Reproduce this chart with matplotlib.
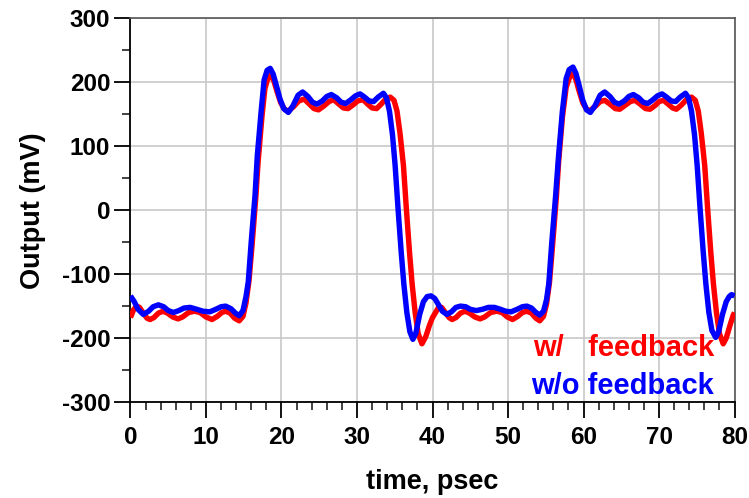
import matplotlib.pyplot as plt
from matplotlib.ticker import MultipleLocator

plt.rcParams['font.family'] = ['Liberation Sans', 'DejaVu Sans']
plt.rcParams['font.weight'] = 'bold'
plt.rcParams['axes.unicode_minus'] = False  # plain hyphen like the original

# time in psec, output in mV
t_nofb = [0, 0.5, 1.0, 1.7, 2.4, 3.0, 3.7, 4.4, 5.0, 5.7, 6.4, 7.1, 7.9, 8.8, 9.6, 10.5, 11.3, 12.0,
          12.6, 13.3, 13.9, 14.4, 14.9, 15.3, 15.6, 16.0, 16.5, 16.8, 17.3, 17.7, 18.1, 18.5, 18.9,
          19.3, 19.8, 20.3, 20.9, 21.5, 22.2, 22.8, 23.5, 24.1, 24.7, 25.4, 26.0, 26.6, 27.3, 27.9,
          28.5, 29.1, 29.8, 30.4, 31.0, 31.6, 32.2, 32.8, 33.5, 33.9, 34.3, 34.7, 35.05, 35.45, 35.85,
          36.2, 36.6, 37.0, 37.4, 37.8, 38.3, 38.8, 39.3, 39.8,
          40.3, 40.8, 41.3, 41.9, 42.5, 43.1, 43.7, 44.4, 45.0, 45.8, 46.6, 47.4, 48.2, 49.0, 49.7,
          50.4, 51.2, 51.9, 52.5, 53.1, 53.7, 54.2, 54.7, 55.1, 55.4, 55.8, 56.3, 56.7, 57.2, 57.7,
          58.1, 58.6, 59.0, 59.4, 59.9, 60.4, 60.9, 61.5, 62.2, 62.8, 63.5, 64.1, 64.7, 65.4, 66.0,
          66.6, 67.3, 67.9, 68.5, 69.1, 69.8, 70.4, 71.0, 71.6, 72.2, 72.8, 73.5, 73.9, 74.3, 74.7,
          75.05, 75.45, 75.85, 76.2, 76.6, 77.0, 77.5, 77.9, 78.4, 78.9, 79.3, 79.6, 80.0]
v_nofb = [-134, -143, -155, -163, -158, -151, -148, -151, -157, -160, -157, -153, -152, -155, -158,
          -159, -155, -151, -150, -154, -161, -165, -157, -135, -112, -48, 24, 86, 154, 204, 219,
          222, 213, 196, 174, 159, 153, 163, 180, 185, 178, 169, 166, 171, 178, 181, 176, 169, 167,
          172, 179, 182, 177, 171, 170, 177, 183, 176, 155, 118, 70, 0, -65, -115, -160, -190, -202,
          -192, -163, -143, -135, -134,
          -138, -148, -158, -163, -159, -152, -150, -151, -155, -157, -155, -152, -152, -155, -158,
          -159, -155, -151, -150, -153, -160, -164, -158, -140, -115, -50, 22, 86, 155, 206, 220,
          224, 214, 196, 172, 157, 153, 163, 180, 185, 178, 169, 166, 171, 178, 181, 176, 169, 167,
          172, 179, 182, 177, 171, 170, 177, 183, 176, 155, 118, 70, 0, -65, -115, -160, -188, -199,
          -190, -163, -143, -135, -132, -134]

t_fb = [0, 0.4, 0.8, 1.2, 1.7, 2.2, 2.6, 3.1, 3.7, 4.3, 4.9, 5.6, 6.3, 6.9, 7.7, 8.5, 9.2, 10.0,
        10.8, 11.5, 12.1, 12.6, 13.2, 13.8, 14.4, 14.9, 15.3, 15.7, 16.1, 16.6, 16.9, 17.4, 17.8,
        18.2, 18.6, 19.0, 19.4, 19.9, 20.4, 20.9, 21.6, 22.3, 23.0, 23.7, 24.3, 24.9, 25.6, 26.3,
        26.9, 27.6, 28.2, 28.8, 29.5, 30.1, 30.8, 31.5, 32.0, 32.6, 33.2, 33.8, 34.4, 34.9, 35.3,
        35.7, 36.15, 36.55, 36.95, 37.3, 37.7, 38.1, 38.6, 39.1, 39.6, 40.0,
        40.4, 40.8, 41.2, 41.7, 42.2, 42.6, 43.1, 43.7, 44.3, 44.9, 45.6, 46.3, 46.9, 47.7, 48.5,
        49.2, 49.9, 50.6, 51.3, 51.9, 52.5, 53.1, 53.7, 54.2, 54.7, 55.1, 55.5, 55.9, 56.4, 56.7,
        57.2, 57.7, 58.2, 58.6, 59.0, 59.4, 59.9, 60.4, 60.9, 61.6, 62.2, 62.8, 63.5, 64.2, 64.8,
        65.5, 66.2, 66.8, 67.5, 68.2, 68.8, 69.5, 70.0, 70.6, 71.3, 71.8, 72.3, 73.0, 73.7, 74.3,
        74.8, 75.2, 75.6, 76.05, 76.45, 76.85, 77.2, 77.6, 78.0, 78.5, 78.9, 79.4, 79.8, 80.0]
v_fb = [-168, -156, -150, -152, -161, -169, -171, -168, -161, -158, -161, -167, -170, -167, -160,
        -158, -160, -167, -171, -166, -160, -158, -161, -169, -173, -166, -145, -110, -55, 20, 75,
        145, 190, 207, 211, 202, 186, 168, 158, 155, 162, 171, 174, 166, 159, 157, 163, 170, 173,
        166, 160, 159, 165, 171, 173, 165, 160, 159, 166, 174, 177, 172, 155, 120, 70, 0, -65, -115,
        -160, -193, -209, -198, -180, -168,
        -160, -152, -152, -160, -168, -171, -168, -161, -158, -161, -167, -170, -167, -160, -158,
        -160, -167, -171, -166, -160, -158, -161, -169, -173, -166, -147, -112, -55, 20, 75, 145,
        192, 210, 214, 204, 187, 168, 158, 156, 163, 170, 172, 166, 159, 158, 164, 170, 172, 166,
        159, 158, 164, 170, 172, 165, 160, 158, 165, 174, 177, 172, 155, 120, 70, 0, -65, -115,
        -160, -193, -209, -200, -180, -165, -160]

fig = plt.figure(figsize=(7.49, 4.98), dpi=100)
ax = fig.add_axes([0.1742, 0.1928, 0.8065, 0.7701])

ax.plot(t_fb, v_fb, color='#ff0000', lw=3.9, solid_joinstyle='round', solid_capstyle='butt', zorder=3)
ax.plot(t_nofb, v_nofb, color='#0000ff', lw=3.9, solid_joinstyle='round', solid_capstyle='butt', zorder=4)

ax.set_xlim(0, 80)
ax.set_ylim(-300, 300)
ax.xaxis.set_major_locator(MultipleLocator(10))
ax.xaxis.set_minor_locator(MultipleLocator(2))
ax.yaxis.set_major_locator(MultipleLocator(100))
ax.yaxis.set_minor_locator(MultipleLocator(50))

ax.grid(True, which='major', color='#c8c8c8', lw=1.2, zorder=0)
ax.set_axisbelow(True)

for side in ['left', 'bottom']:
    ax.spines[side].set_color('black')
    ax.spines[side].set_linewidth(1.3)
for side in ['top', 'right']:
    ax.spines[side].set_color('#555555')
    ax.spines[side].set_linewidth(1.2)

ax.tick_params(which='major', direction='out', length=11.5, width=1.3, color='black',
               labelsize=17.5, pad=3)
ax.tick_params(axis='x', which='major', pad=6)
ax.tick_params(which='minor', direction='out', length=5.8, width=1.2, color='#222222')
for lab in ax.get_xticklabels() + ax.get_yticklabels():
    lab.set_fontweight('bold')

ax.set_xlabel('time, psec', fontsize=19.5, fontweight='bold', labelpad=14)
ax.set_ylabel('Output (mV)', fontsize=19.5, fontweight='bold', labelpad=11)

# in-plot legend text
ax.text(77.3, -228, 'w/   feedback', color='#ff0000', fontsize=21, fontweight='bold',
        ha='right', va='baseline', zorder=5)
ax.text(77.3, -287.5, 'w/o feedback', color='#0000ff', fontsize=21, fontweight='bold',
        ha='right', va='baseline', zorder=5)

fig.savefig('out.png', dpi=100)
